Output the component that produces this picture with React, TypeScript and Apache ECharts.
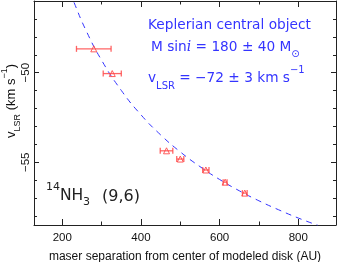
import React, { useEffect, useRef } from "react";
import * as echarts from "echarts";

// Maser points: separation (AU), vLSR (km/s), separation error (AU)
const sepAU = [280, 327, 465, 500, 565, 614, 664];
const vlsr = [-48.67, -50.05, -54.36, -54.82, -55.43, -56.11, -56.72];
const sepErr = [44, 23, 16, 9, 8, 5, 6];

// Keplerian model curve
const curveX = [220, 230, 260, 300, 350, 400, 450, 500, 550, 600, 650, 700, 750, 800, 850];
const curveY = [-45.5, -46.09, -47.63, -49.31, -50.99, -52.35, -53.47, -54.42, -55.24, -55.96, -56.59, -57.15, -57.65, -58.11, -58.52];

const xMajor = [200, 400, 600, 800];
const xMinor = [300, 500, 700];
const yMajor = [-55, -50];
const yMinor = [-58, -57, -56, -54, -53, -52, -51, -49, -48, -47];

const RED = "#ff4a4a";
const BLUE = "#3434ff";
const AX = "#222";
const TICK_FONT = "Liberation Sans";
const BLUE_FONT = "DejaVu Sans";

export default function App() {
  const ref = useRef<HTMLDivElement>(null);
  useEffect(() => {
    if (!ref.current) return;
    const chart = echarts.init(ref.current, undefined, { renderer: "svg" });
    const xRange = { min: 128, max: 896 };
    const yRange = { min: -58.5, max: -46 };
    const xAxisBase = (pos: string, ticks: number[], len: number, labels: boolean, line: boolean, extra: any = {}) => ({
      type: "value",
      position: pos,
      ...xRange,
      axisLine: { show: line, onZero: false, lineStyle: { color: AX, width: 1 } },
      axisTick: { show: true, inside: true, length: len, customValues: ticks, lineStyle: { color: AX } },
      axisLabel: labels
        ? { show: true, customValues: ticks, color: "#111", fontSize: 11.5, fontFamily: TICK_FONT, margin: 6 }
        : { show: false },
      splitLine: { show: false },
      ...extra,
    });
    const yAxisBase = (pos: string, ticks: number[], len: number, labels: boolean, line: boolean, extra: any = {}) => ({
      type: "value",
      position: pos,
      ...yRange,
      axisLine: { show: line, onZero: false, lineStyle: { color: AX, width: 1 } },
      axisTick: { show: true, inside: true, length: len, customValues: ticks, lineStyle: { color: AX } },
      axisLabel: labels
        ? {
            show: true,
            customValues: ticks,
            rotate: 90,
            color: "#111",
            fontSize: 11.5,
            fontFamily: TICK_FONT,
            margin: 3,
            formatter: (v: number) => String(v).replace("-", "\u2212"),
          }
        : { show: false },
      splitLine: { show: false },
      ...extra,
    });

    const errData = sepAU.map((x, i) => [x, vlsr[i], sepErr[i]]);
    const ptData = sepAU.map((x, i) => [x, vlsr[i]]);
    const curveData = curveX.map((x, i) => [x, curveY[i]]);

    const txt = (left: number, top: number, text: string, fontSize: number, fill: string, extra: any = {}) => ({
      type: "text",
      left,
      top,
      style: { text, fill, fontSize, fontFamily: BLUE_FONT, ...extra },
    });

    chart.setOption({
      animation: false,
      grid: { left: 34, right: 1, top: 1, bottom: 37, outerBoundsMode: "none", containLabel: false },
      xAxis: [
        xAxisBase("bottom", xMajor, 6, true, true, {
          name: "maser separation from center of modeled disk (AU)",
          nameLocation: "middle",
          nameGap: 25,
          nameTextStyle: { color: "#111", fontSize: 12, fontFamily: TICK_FONT },
        }),
        xAxisBase("bottom", xMinor, 3.5, false, false),
        xAxisBase("top", xMajor, 6, false, true),
        xAxisBase("top", xMinor, 3.5, false, false),
      ],
      yAxis: [
        yAxisBase("left", yMajor, 5, true, true),
        yAxisBase("left", yMinor, 3, false, false),
        yAxisBase("right", yMajor, 5, false, true),
        yAxisBase("right", yMinor, 3, false, false),
      ],
      graphic: [
        {
          type: "text",
          x: 10,
          y: 101,
          rotation: Math.PI / 2,
          style: {
            text: "{b|v}{sub|LSR}{b| (km s}{sup|\u22121}{b|)}",
            align: "center",
            verticalAlign: "middle",
            fill: "#111",
            rich: {
              b: { fontSize: 13, fontFamily: TICK_FONT, fill: "#111", lineHeight: 22, verticalAlign: "middle" },
              sub: { fontSize: 9, fontFamily: TICK_FONT, fill: "#111", verticalAlign: "bottom", lineHeight: 14 },
              sup: { fontSize: 9, fontFamily: TICK_FONT, fill: "#111", verticalAlign: "top", lineHeight: 14 },
            },
          },
        },
        txt(148, 17, "Keplerian central object", 13.7, BLUE),
        {
          type: "text",
          left: 151,
          top: 39,
          style: {
            text: "{b|M sin}{i|i}{b| = 180 \u00b1 40 M}{s|\u2299}",
            fill: BLUE,
            rich: {
              b: { fontSize: 13.7, fontFamily: BLUE_FONT, fill: BLUE, lineHeight: 24, verticalAlign: "middle" },
              i: { fontSize: 14, fontFamily: "DejaVu Serif", fontStyle: "italic", fill: BLUE, lineHeight: 24, verticalAlign: "middle" },
              s: { fontSize: 10, fontFamily: BLUE_FONT, fill: BLUE, lineHeight: 16, verticalAlign: "bottom" },
            },
          },
        },
        {
          type: "text",
          left: 148,
          top: 64,
          style: {
            text: "{b|v}{s|LSR}{b| = \u221272 \u00b1 3 km s}{p|\u22121}",
            fill: BLUE,
            rich: {
              b: { fontSize: 13.7, fontFamily: BLUE_FONT, fill: BLUE, lineHeight: 26, verticalAlign: "middle" },
              s: { fontSize: 10, fontFamily: BLUE_FONT, fill: BLUE, lineHeight: 16, verticalAlign: "bottom" },
              p: { fontSize: 10, fontFamily: BLUE_FONT, fill: BLUE, lineHeight: 16, verticalAlign: "top" },
            },
          },
        },
        txt(46, 181, "14", 11, "#222"),
        txt(60, 187, "NH", 15.5, "#222"),
        txt(83, 196, "3", 11, "#222"),
        txt(102, 187, "(9,6)", 16, "#222"),
      ],
      series: [
        {
          type: "line",
          data: curveData,
          xAxisIndex: 0,
          yAxisIndex: 0,
          smooth: true,
          showSymbol: false,
          symbol: "none",
          clip: true,
          lineStyle: { color: BLUE, width: 1, type: [6, 5] },
          z: 2,
        },
        {
          type: "custom",
          xAxisIndex: 0,
          yAxisIndex: 0,
          data: errData,
          clip: true,
          z: 3,
          renderItem: (params: any, api: any) => {
            const x = api.value(0);
            const y = api.value(1);
            const e = api.value(2);
            const p0 = api.coord([x - e, y]);
            const p1 = api.coord([x + e, y]);
            const h = 3;
            const st = { stroke: RED, lineWidth: 1.3, opacity: 0.85 };
            return {
              type: "group",
              children: [
                { type: "line", shape: { x1: p0[0], y1: p0[1], x2: p1[0], y2: p1[1] }, style: st },
                { type: "line", shape: { x1: p0[0], y1: p0[1] - h, x2: p0[0], y2: p0[1] + h }, style: st },
                { type: "line", shape: { x1: p1[0], y1: p1[1] - h, x2: p1[0], y2: p1[1] + h }, style: st },
              ],
            };
          },
        },
        {
          type: "scatter",
          xAxisIndex: 0,
          yAxisIndex: 0,
          data: ptData,
          symbol: "triangle",
          symbolSize: 6,
          itemStyle: { color: "rgba(0,0,0,0)", borderColor: RED, borderWidth: 1, opacity: 0.9 },
          z: 4,
        },
      ],
    });
    return () => chart.dispose();
  }, []);
  return <div ref={ref} style={{ position: "fixed", left: 0, top: 0, width: 337, height: 262 }} />;
}
